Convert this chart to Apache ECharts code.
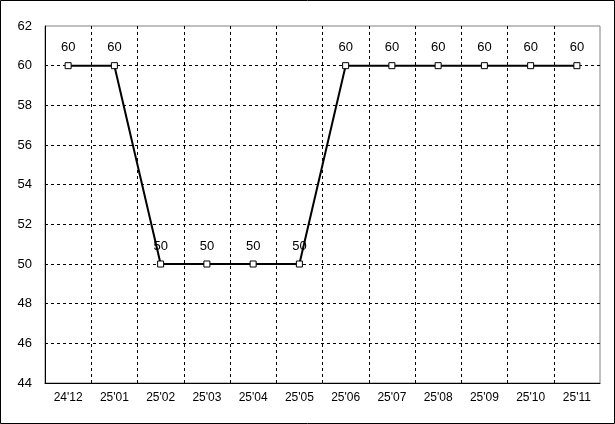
<!DOCTYPE html>
<html>
<head>
<meta charset="utf-8">
<script src="https://cdn.jsdelivr.net/npm/echarts@6/dist/echarts.min.js"></script>
<style>
html,body{margin:0;padding:0;background:#fff;}
#chart{width:615px;height:424px;}
</style>
</head>
<body>
<div id="chart"></div>
<script>
const categories = ["24'12","25'01","25'02","25'03","25'04","25'05","25'06","25'07","25'08","25'09","25'10","25'11"];
const values = [60,60,50,50,50,50,60,60,60,60,60,60];
const yMin = 44, yMax = 62, yStep = 2;

const chart = echarts.init(document.getElementById('chart'), null, {renderer:'canvas'});
const FONT = 'Liberation Sans, Arial, sans-serif';
chart.setOption({
  animation:false,
  backgroundColor:'#fff',
  graphic:[{type:'rect', shape:{x:0.5,y:0.5,width:614,height:423}, style:{fill:'none', stroke:'#000', lineWidth:1}, z:100}],
  grid:{left:45, right:15, top:26, bottom:41, show:true, borderColor:'#808080', borderWidth:1, backgroundColor:'#fff'},
  xAxis:{
    type:'category', data:categories, boundaryGap:true,
    axisLine:{show:true, lineStyle:{color:'#000', width:1}},
    axisTick:{show:false},
    axisLabel:{color:'#000', fontSize:12, fontFamily:FONT, margin:9, interval:0},
    splitLine:{show:true, showMinLine:false, showMaxLine:false, interval:0, lineStyle:{color:'#000', type:[3,3], width:1}}
  },
  yAxis:{
    type:'value', min:yMin, max:yMax, interval:yStep,
    axisLine:{show:true, lineStyle:{color:'#000', width:1}},
    axisTick:{show:false},
    axisLabel:{color:'#000', fontSize:13, fontFamily:FONT, margin:13},
    splitLine:{show:true, showMinLine:false, showMaxLine:false, lineStyle:{color:'#000', type:[3,3], width:1}}
  },
  series:[{
    type:'line', data:values,
    symbol:'rect', symbolSize:6,
    lineStyle:{color:'#000', width:2},
    itemStyle:{color:'#fff', borderColor:'#000', borderWidth:1},
    label:{show:true, position:'top', distance:8, color:'#000', fontSize:13, fontFamily:FONT},
    z:3
  }]
});
</script>
</body>
</html>
